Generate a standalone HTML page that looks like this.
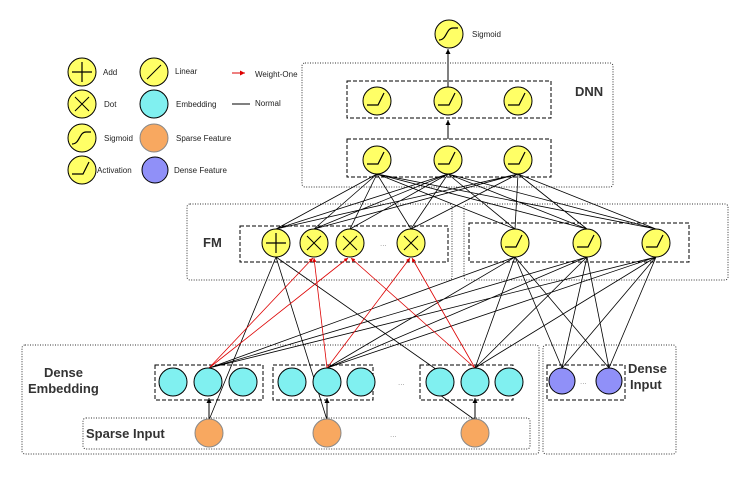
<!DOCTYPE html>
<html><head><meta charset="utf-8"><style>body{margin:0;background:#fff}svg{display:block}text{font-family:"Liberation Sans",sans-serif}</style></head><body>
<svg width="749" height="477" viewBox="0 0 749 477" xmlns="http://www.w3.org/2000/svg">
<defs>
<marker id="ab" markerWidth="6" markerHeight="6" refX="5" refY="3" orient="auto"><path d="M0,0.5 L5,3 L0,5.5z" fill="#000"/></marker>
<marker id="ar" markerWidth="6" markerHeight="6" refX="5" refY="3" orient="auto"><path d="M0,0.5 L5,3 L0,5.5z" fill="#d00"/></marker>
<g id="act"><circle r="14" fill="#ffff66" stroke="#000" stroke-width="1"/><path d="M-10,4 L1,4 L7,-8" fill="none" stroke="#000" stroke-width="1.2"/></g>
<g id="sig"><circle r="14" fill="#ffff66" stroke="#000"/><path d="M-10,6 C-2,6 -3,-6 4,-6 L9,-6" fill="none" stroke="#000" stroke-width="1.2"/></g>
<g id="add"><circle r="14" fill="#ffff66" stroke="#000"/><path d="M-10,0 H10 M0,-10 V10" stroke="#000" stroke-width="1.2"/></g>
<g id="dot"><circle r="14" fill="#ffff66" stroke="#000"/><path d="M-7,-7 L7,7 M7,-7 L-7,7" stroke="#000" stroke-width="1"/></g>
<g id="lin"><circle r="14" fill="#ffff66" stroke="#000"/><path d="M-7,7 L7,-7" stroke="#000" stroke-width="1"/></g>
<circle id="emb" r="14" fill="#80f0f0" stroke="#000"/>
<circle id="sp" r="14" fill="#f8a860" stroke="#888"/>
<circle id="dn" r="13" fill="#9090f8" stroke="#000"/>
</defs>
<g fill="none" stroke="#000" stroke-width="1">
<g stroke-dasharray="1,1.5" stroke="#333">
<rect x="302" y="63" width="311" height="124" rx="3"/>
<rect x="187" y="204" width="265" height="76" rx="3"/>
<rect x="464" y="204" width="264" height="76" rx="3"/>
<rect x="22" y="345" width="517" height="109" rx="3"/>
<rect x="83" y="418" width="447" height="31" rx="3"/>
<rect x="543" y="345" width="133" height="109" rx="3"/>
</g>
<g stroke-dasharray="4,2">
<rect x="347" y="81" width="204" height="37"/>
<rect x="347" y="139" width="204" height="38"/>
<rect x="240" y="226" width="208" height="36"/>
<rect x="469" y="223" width="220" height="39"/>
<rect x="155" y="365" width="108" height="35"/>
<rect x="273" y="365" width="100" height="35"/>
<rect x="420" y="365" width="93" height="35"/>
<rect x="547" y="365" width="78" height="35"/>
</g>
<g stroke-width="0.8">
<path d="M276,229 L377,174 M276,229 L448,174 M276,229 L518,174
M314,229 L377,174 M314,229 L448,174 M314,229 L518,174
M350,229 L377,174 M350,229 L448,174
M411,229 L377,174 M411,229 L448,174 M411,229 L518,174
M515,229 L377,174 M515,229 L448,174 M515,229 L518,174
M587,229 L377,174 M587,229 L448,174 M587,229 L518,174
M656,229 L377,174 M656,229 L448,174 M656,229 L518,174"/>
<path d="M209,368 L515,257 M209,368 L587,257 M209,368 L656,257
M327,368 L515,257 M327,368 L587,257 M327,368 L656,257
M475,368 L515,257 M475,368 L587,257 M475,368 L656,257
M562,368 L515,257 M562,368 L587,257 M562,368 L656,257
M609,368 L515,257 M609,368 L587,257 M609,368 L656,257"/>
<path d="M276,257 L209,420 M276,257 L327,420 M276,257 L440,372 M440,395 L475,420"/>
</g>
<g stroke="#d00" stroke-width="0.8">
<path d="M209,368 L313,258" marker-end="url(#ar)"/><path d="M209,368 L348,258" marker-end="url(#ar)"/>
<path d="M327,368 L314,258" marker-end="url(#ar)"/><path d="M327,368 L410,258" marker-end="url(#ar)"/>
<path d="M475,368 L351,258" marker-end="url(#ar)"/><path d="M475,368 L412,258" marker-end="url(#ar)"/>
</g>
<path d="M448,139 L448,120" marker-end="url(#ab)"/>
<path d="M448,87 L448,49" marker-end="url(#ab)"/>
<path d="M209,419 L209,398" marker-end="url(#ab)"/>
<path d="M327,419 L327,398" marker-end="url(#ab)"/>
<path d="M475,419 L475,398" marker-end="url(#ab)"/>
<path d="M232,73 L245,73" stroke="#d00" marker-end="url(#ar)"/>
<path d="M232,104 L250,104"/>
</g>
<use href="#sig" x="449" y="34"/>
<use href="#act" x="377" y="101"/><use href="#act" x="448" y="101"/><use href="#act" x="518" y="101"/>
<use href="#act" x="377" y="160"/><use href="#act" x="448" y="160"/><use href="#act" x="518" y="160"/>
<use href="#add" x="276" y="243"/><use href="#dot" x="314" y="243"/><use href="#dot" x="350" y="243"/><use href="#dot" x="411" y="243"/>
<use href="#act" x="515" y="243"/><use href="#act" x="587" y="243"/><use href="#act" x="656" y="243"/>
<use href="#emb" x="173" y="382"/><use href="#emb" x="208" y="382"/><use href="#emb" x="243" y="382"/>
<use href="#emb" x="292" y="382"/><use href="#emb" x="327" y="382"/><use href="#emb" x="361" y="382"/>
<use href="#emb" x="440" y="382"/><use href="#emb" x="475" y="382"/><use href="#emb" x="509" y="382"/>
<use href="#sp" x="209" y="433"/><use href="#sp" x="327" y="433"/><use href="#sp" x="475" y="433"/>
<use href="#dn" x="562" y="381"/><use href="#dn" x="609" y="381"/>
<use href="#add" x="82" y="72"/><use href="#dot" x="82" y="104"/><use href="#sig" x="82" y="138"/><use href="#act" x="82" y="170"/>
<use href="#lin" x="154" y="72"/><use href="#emb" x="154" y="104"/><use href="#sp" x="154" y="138"/><use href="#dn" x="155" y="170"/>
<g font-size="8" fill="#222">
<text x="103" y="75">Add</text><text x="104" y="107">Dot</text><text x="104" y="141">Sigmoid</text><text x="97" y="173">Activation</text>
<text x="175" y="74">Linear</text><text x="176" y="107">Embedding</text><text x="176" y="141">Sparse Feature</text><text x="174" y="173">Dense Feature</text>
<text x="255" y="77">Weight-One</text><text x="255" y="106">Normal</text>
<text x="472" y="37">Sigmoid</text>
<text x="380" y="246" fill="#999">...</text><text x="398" y="385" fill="#999">...</text><text x="390" y="437" fill="#999">...</text><text x="580" y="384" fill="#999">...</text>
</g>
<g font-size="13" font-weight="bold" fill="#333">
<text x="575" y="96">DNN</text>
<text x="203" y="247">FM</text>
<text x="44" y="377">Dense</text><text x="28" y="393">Embedding</text>
<text x="86" y="438">Sparse Input</text>
<text x="628" y="373">Dense</text><text x="630" y="389">Input</text>
</g>
</svg>
</body></html>
